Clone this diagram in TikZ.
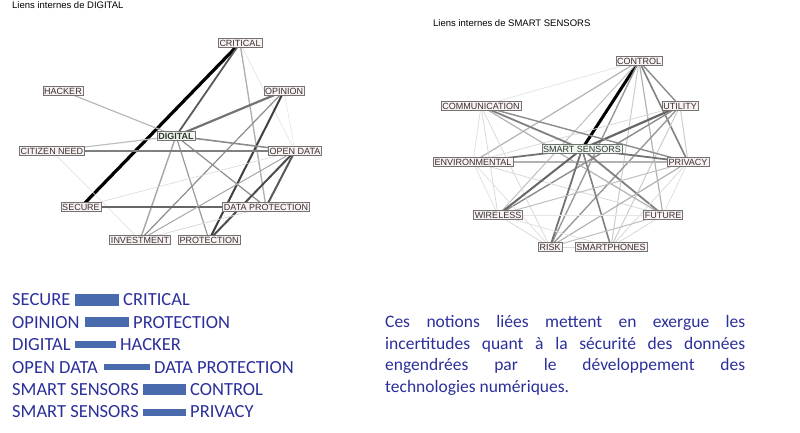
\documentclass[tikz,border=0pt]{standalone}
\usepackage{fontspec}
\setmainfont{Carlito}
\newfontfamily\graphfont{Liberation Sans}
\usetikzlibrary{positioning}
\definecolor{navy}{HTML}{2B2F9A}
\definecolor{barblue}{HTML}{4A6AAE}
\definecolor{boxfill}{HTML}{FBF1F1}
\definecolor{centerfill}{HTML}{EEF8EE}
\tikzset{
  term/.style={draw=black!55, fill=boxfill, inner sep=1.3pt, text=black!80, font=\graphfont\fontsize{9}{10}\selectfont},
  hub/.style={term, fill=centerfill, font=\graphfont\bfseries\fontsize{9}{10}\selectfont},
  title/.style={anchor=north west, inner sep=0pt, font=\graphfont\fontsize{9.5}{10}\selectfont},
  legend/.style={anchor=west, inner sep=0pt, text=navy, font=\fontsize{18.5}{20}\selectfont},
  bar/.style={fill=barblue, draw=none}
}
\begin{document}
\begin{tikzpicture}[x=1pt, y=-1pt]
    \useasboundingbox (0,0) rectangle (800,433);

    % Titles
    \node[title] (t1) at (12,1) {Liens internes de DIGITAL};
    \node[title] (t2) at (433,19) {Liens internes de SMART SENSORS};

    % Terms of DIGITAL
    \foreach \n/\x/\y/\t in {cri/240/43/CRITICAL, hac/63/91/HACKER, opi/284/91/OPINION, cit/52/151/CITIZEN NEED, opd/295/151/OPEN DATA, sec/81/207/SECURE, dap/266/207/DATA PROTECTION, inv/140/240/INVESTMENT, pro/209/240/PROTECTION} {
      \coordinate (\n) at (\x,\y);
    }
    \coordinate (dig) at (176,136);

    % Links of DIGITAL
    \foreach \a/\b/\c/\w in {cri/sec/black/3.2, cri/dig/black!65/1.8, cri/dap/black!30/1.4, cri/opd/black!12/0.6, hac/dig/black!28/1.2, opi/dig/black!55/2.2, opi/inv/black!45/1.2, opi/pro/black!75/2.0, opi/opd/black!10/0.6, dig/cit/black!25/1.2, dig/opd/black!45/1.6, dig/inv/black!35/1.4, dig/pro/black!40/1.2, dig/dap/black!45/1.2, cit/opd/black!50/2.0, cit/inv/black!12/0.6, sec/dap/black!60/2.4, opd/inv/black!35/1.0, opd/pro/black!70/2.0, opd/dap/black!65/2.0, inv/dap/black!15/0.8, opd/sec/black!15/0.6} {
      \draw[draw=\c, line width=\w pt] (\a) -- (\b);
    }

    \foreach \n/\x/\y/\t in {cri/240/43/CRITICAL, hac/63/91/HACKER, opi/284/91/OPINION, cit/52/151/CITIZEN NEED, opd/295/151/OPEN DATA, sec/81/207/SECURE, dap/266/207/DATA PROTECTION, inv/140/240/INVESTMENT, pro/209/240/PROTECTION} {
      \node[term] (n\n) at (\n) {\t};
    }
    \node[hub] (ndig) at (dig) {DIGITAL};

    % Terms of SMART SENSORS
    \foreach \n/\x/\y in {con/639/61, com/481/106, uti/680/106, env/473/162, pri/688/162, wir/498/215, fut/663/215, ris/550/247, sma/611/247, sms/582/149} {
      \coordinate (\n) at (\x,\y);
    }

    % Links of SMART SENSORS
    \foreach \a/\b/\c/\w in {con/sms/black/3.0, con/com/black!10/0.8, con/env/black!30/1.2, con/uti/black!45/1.4, con/pri/black!50/1.6, con/fut/black!30/1.2, con/ris/black!40/1.4, con/sma/black!20/1.0, con/wir/black!25/1.0, uti/sms/black!60/2.2, uti/wir/black!45/1.4, uti/ris/black!40/1.4, uti/sma/black!20/1.0, uti/pri/black!20/1.0, uti/env/black!15/0.8, com/sms/black!50/1.8, com/pri/black!45/1.4, com/fut/black!30/1.2, com/wir/black!15/0.8, com/ris/black!15/0.8, com/env/black!12/0.8, env/sms/black!55/1.8, env/pri/black!30/1.2, env/wir/black!12/0.8, env/ris/black!12/0.8, env/fut/black!15/0.8, sms/pri/black!55/1.8, sms/wir/black!60/2.0, sms/fut/black!50/1.8, sms/ris/black!55/1.8, sms/sma/black!50/1.6, pri/wir/black!25/1.0, pri/ris/black!30/1.2, pri/sma/black!15/0.8, pri/fut/black!12/0.8, wir/ris/black!15/0.8, wir/sma/black!12/0.8, fut/ris/black!25/1.0, fut/sma/black!15/0.8, ris/sma/black!15/0.8, wir/fut/black!10/0.6} {
      \draw[draw=\c, line width=\w pt] (\a) -- (\b);
    }

    \foreach \n/\x/\y/\t in {con/639/61/CONTROL, com/481/106/COMMUNICATION, uti/680/106/UTILITY, env/473/162/ENVIRONMENTAL, pri/688/162/PRIVACY, wir/498/215/WIRELESS, fut/663/215/FUTURE, ris/550/247/RISK, sma/611/247/SMARTPHONES} {
      \node[term] (n\n) at (\n) {\t};
    }
    \node[hub, font=\graphfont\fontsize{9}{10}\selectfont] (nsms) at (sms) {SMART SENSORS};

    % Strongest pairs
    \foreach \i/\l/\bx/\bw/\bh/\r in {1/SECURE/75/44/12/CRITICAL, 2/OPINION/85/44/10/PROTECTION, 3/DIGITAL/75/41/7/HACKER, 4/OPEN DATA/104/46/6/DATA PROTECTION, 5/SMART SENSORS/143/43/11/CONTROL, 6/SMART SENSORS/143/43/7/PRIVACY} {
      \pgfmathsetmacro{\ry}{300+22.4*(\i-1)}
      \node[legend] (left\i) at (12,\ry) {\l};
      \fill[bar] (\bx,\ry-\bh/2) rectangle ++(\bw,\bh);
      \node[legend] (right\i) at (\bx+\bw+4,\ry) {\r};
    }

    % Comment
    \node[anchor=north west, inner sep=0pt, text=navy, text width=360pt, align=justify,
          font=\fontsize{17.5}{21.8}\selectfont] (note) at (385,315)
      {Ces notions liées mettent en exergue les\linebreak
       incertitudes quant à la sécurité des données\linebreak
       engendrées par le développement des\linebreak
       technologies numériques.};
\end{tikzpicture}
\end{document}
